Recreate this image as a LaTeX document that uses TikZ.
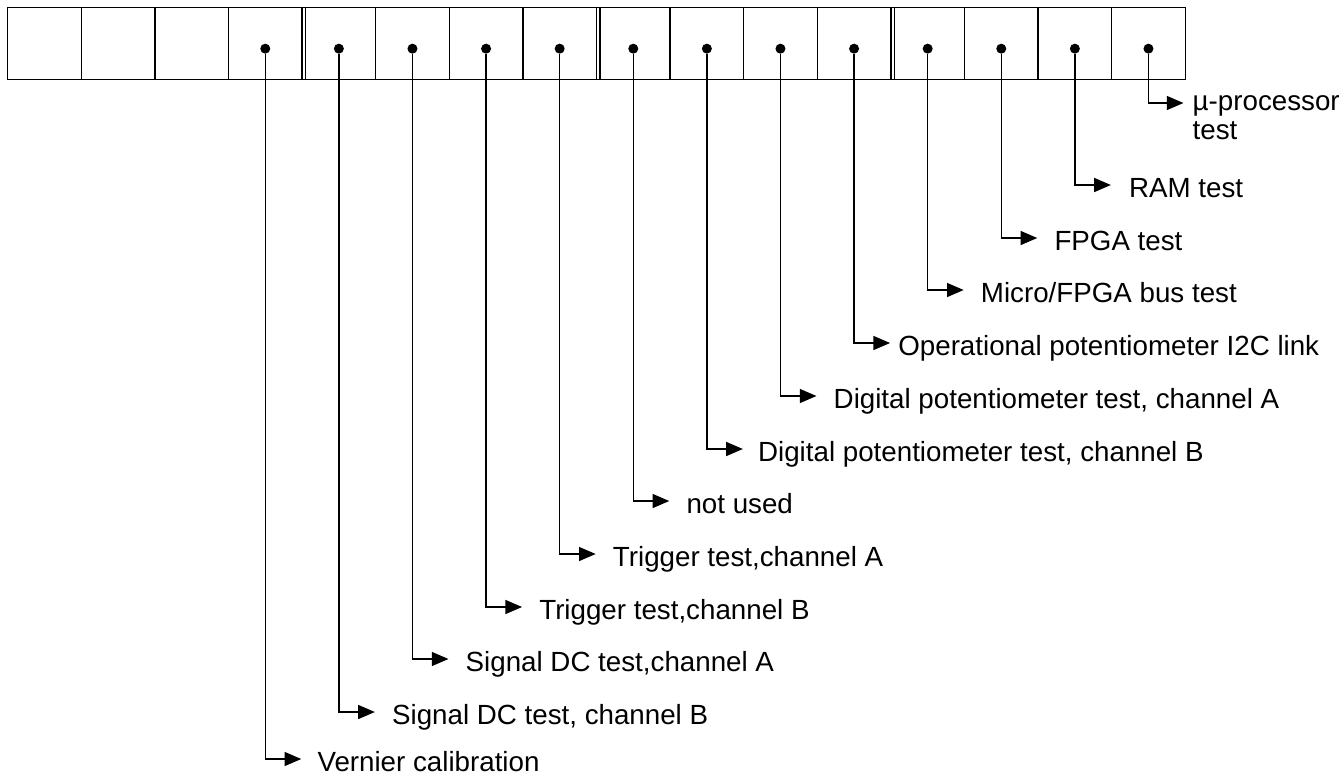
\documentclass[tikz,border=0pt]{standalone}
\usepackage{fontspec}
\setmainfont{Liberation Sans}
\usepackage{tikz}
\usetikzlibrary{arrows.meta,positioning,calc}

\begin{document}
\begin{tikzpicture}[x=0.75pt, y=-0.75pt,
    cell/.style={draw, line width=1pt, minimum width=55.2pt, minimum height=54pt,
                 inner sep=0pt, anchor=north west},
    bit/.style={circle, fill, inner sep=0pt, minimum size=7.5pt},
    lbl/.style={inner sep=0pt, anchor=base west, font=\fontsize{20.8}{21.5}\selectfont},
    arr/.style={-{Triangle[length=12.5pt, width=10.5pt]}, line width=1pt}]

\useasboundingbox (0,0) rectangle (1339,776);

% Register of 16 cells, groups of four
\foreach \i in {1,...,16} {
  \node[cell] (c\i) at ({7+(\i-1)*73.6}, 7) {};
}
% double separators between the groups
\foreach \i in {4,8,12} {
  \draw[line width=1pt] ([xshift=2.25pt]c\i.north east) -- ([xshift=2.25pt]c\i.south east);
}

% Dots in the used cells
\foreach \i in {4,...,16} {
  \node[bit] (d\i) at ([yshift=-3.75pt]c\i.center) {};
}

% One flag per bit -- down from the dot, then right to its text
\foreach \i/\y/\g/\txt in {4/759/16/Vernier calibration,
    5/712/17/{Signal DC test, channel B},
    6/659/17/{Signal DC test,channel A},
    7/607/17/{Trigger test,channel B},
    8/554/17/{Trigger test,channel A},
    9/501/17/not used,
    10/449/15/{Digital potentiometer test, channel B},
    11/396/17/{Digital potentiometer test, channel A},
    12/343/8/Operational potentiometer I2C link,
    13/290/17/{Micro/FPGA bus test},
    14/238/17/FPGA test,
    15/185/18/RAM test} {
  \coordinate (e\i) at ($(d\i |- 0,\y)+(36,0)$);
  \draw[arr] (d\i) |- (e\i);
  \node[lbl] (t\i) at ($(e\i)+(\g,12)$) {\txt};
}

% The last bit has a two-line text
\coordinate (e16) at ($(d16 |- 0,103)+(35,0)$);
\draw[arr] (d16) |- (e16);
\node[lbl, align=left] (t16) at ($(e16)+(9,36)$) {µ-processor\\test};

\end{tikzpicture}
\end{document}
